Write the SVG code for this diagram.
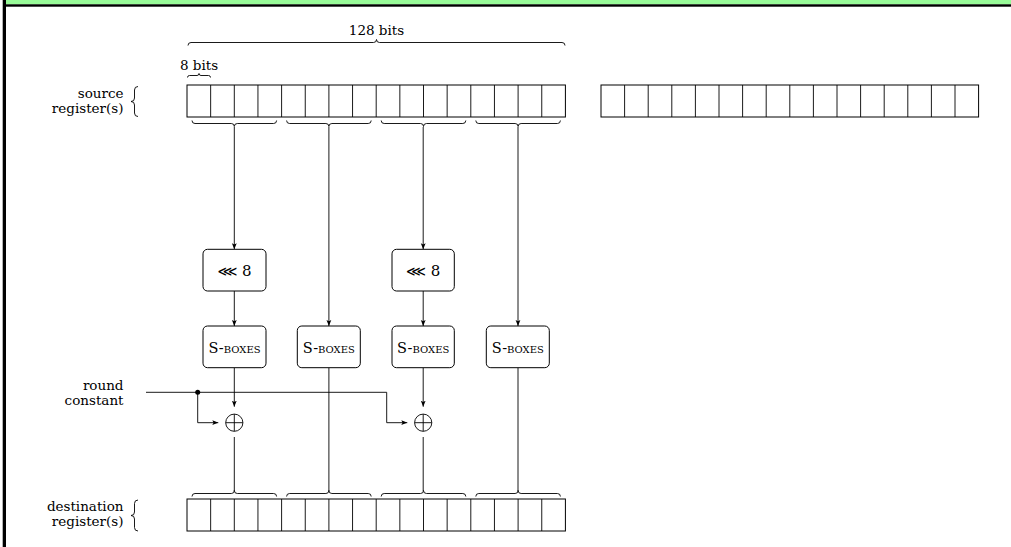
<svg xmlns="http://www.w3.org/2000/svg" width="1011" height="547" viewBox="0 0 1011 547">
<style>
  .t{font-family:"DejaVu Serif","Liberation Serif",serif;font-size:13.5px;fill:#000}
  .lbl{text-anchor:end}
  .mid{text-anchor:middle}
  .reg{fill:#fff;stroke:#000;stroke-width:1}
  .brace{fill:none;stroke:#000;stroke-width:0.9}
  .box{fill:#fff;stroke:#000;stroke-width:1}
  .ln{fill:none;stroke:#000;stroke-width:0.9}
  .sb{font-size:14.5px}
  .sc{font-variant:small-caps}
  .rot{font-size:15px}
</style>
<defs>
  <marker id="ah" markerUnits="userSpaceOnUse" markerWidth="6" markerHeight="6" viewBox="0 0 6 6" refX="6" refY="3" orient="auto">
    <path d="M0,0.6 L6,3 L0,5.4 L1.3,3 z" fill="#000"/>
  </marker>
</defs>
<rect x="0" y="0" width="1011" height="547" fill="#fff"/>
<g id="frame">
  <rect x="3" y="0" width="1008" height="4.5" fill="#98fb98"/>
  <rect x="3" y="4.3" width="1008" height="2.4" fill="#000"/>
  <rect x="2.7" y="0" width="3.3" height="547" fill="#000"/>
</g>

<g id="width-labels">
  <text class="t mid" x="376.5" y="35" font-size="14">128 bits</text>
  <path class="brace" d="M188,45.5 Q188,42.5 191,42.5 L373.5,42.5 Q376.5,42.5 376.5,39.5 Q376.5,42.5 379.5,42.5 L562,42.5 Q565,42.5 565,45.5"/>
  <text class="t mid" x="199" y="69.5" font-size="14">8 bits</text>
  <path class="brace" d="M187.5,77.5 Q187.5,75.5 189.5,75.5 L197,75.5 Q199,75.5 199,73.5 Q199,75.5 201,75.5 L208.5,75.5 Q210.5,75.5 210.5,77.5"/>
</g>

<g id="source-label">
  <text class="t lbl" x="123.5" y="98">source</text>
  <text class="t lbl" x="123.5" y="113">register(s)</text>
  <path class="brace" d="M138,86.5 Q134.5,86.5 134.5,90 L134.5,98 Q134.5,101.5 131,101.5 Q134.5,101.5 134.5,105 L134.5,113 Q134.5,116.5 138,116.5"/>
</g>

<g id="source-register">
  <rect class="reg" x="187" y="85" width="378.4" height="32"/>
  <path class="ln" d="M210.65,85V117M234.3,85V117M257.95,85V117M281.6,85V117M305.25,85V117M328.9,85V117M352.55,85V117M376.2,85V117M399.85,85V117M423.5,85V117M447.15,85V117M470.8,85V117M494.45,85V117M518.1,85V117M541.75,85V117"/>
  <path class="brace" d="M192,120.5 Q192,123.5 195,123.5 L231.3,123.5 Q234.3,123.5 234.3,126.5 Q234.3,123.5 237.3,123.5 L273.6,123.5 Q276.6,123.5 276.6,120.5"/>
  <path class="brace" d="M286.6,120.5 Q286.6,123.5 289.6,123.5 L325.9,123.5 Q328.9,123.5 328.9,126.5 Q328.9,123.5 331.9,123.5 L368.2,123.5 Q371.2,123.5 371.2,120.5"/>
  <path class="brace" d="M381.2,120.5 Q381.2,123.5 384.2,123.5 L420.5,123.5 Q423.5,123.5 423.5,126.5 Q423.5,123.5 426.5,123.5 L462.8,123.5 Q465.8,123.5 465.8,120.5"/>
  <path class="brace" d="M475.8,120.5 Q475.8,123.5 478.8,123.5 L515.1,123.5 Q518.1,123.5 518.1,126.5 Q518.1,123.5 521.1,123.5 L557.4,123.5 Q560.4,123.5 560.4,120.5"/>
</g>

<g id="second-register">
  <rect class="reg" x="601" y="85" width="377.6" height="32"/>
  <path class="ln" d="M624.6,85V117M648.2,85V117M671.8,85V117M695.4,85V117M719,85V117M742.6,85V117M766.2,85V117M789.8,85V117M813.4,85V117M837,85V117M860.6,85V117M884.2,85V117M907.8,85V117M931.4,85V117M955,85V117"/>
</g>

<g id="connectors">
  <path class="ln" d="M234.3,127 V249.3" marker-end="url(#ah)"/>
  <path class="ln" d="M423.2,127 V249.3" marker-end="url(#ah)"/>
  <path class="ln" d="M328.9,127 V326" marker-end="url(#ah)"/>
  <path class="ln" d="M518,127 V326" marker-end="url(#ah)"/>
  <path class="ln" d="M234.3,291 V326" marker-end="url(#ah)"/>
  <path class="ln" d="M423.2,291 V326" marker-end="url(#ah)"/>
  <path class="ln" d="M234.3,367.7 V406.7" marker-end="url(#ah)"/>
  <path class="ln" d="M423.2,367.7 V406.7" marker-end="url(#ah)"/>
  <path class="ln" d="M146,392.3 H386.7 V422.7 H407.3" marker-end="url(#ah)"/>
  <path class="ln" d="M197.7,392.3 V422.7 H218.3" marker-end="url(#ah)"/>
  <circle cx="197.7" cy="392.3" r="2.5" fill="#000"/>
  <path class="ln" d="M234.3,437 V491"/>
  <path class="ln" d="M423.2,437 V491"/>
  <path class="ln" d="M328.9,367.7 V491"/>
  <path class="ln" d="M518,367.7 V491"/>
</g>

<g id="rot1">
  <rect class="box" x="203" y="249.3" width="63" height="41.7" rx="4.5"/>
  <text class="t mid rot" x="234.5" y="276"><tspan font-family="DejaVu Sans,sans-serif" font-size="14">⋘</tspan> 8</text>
</g>
<g id="rot2">
  <rect class="box" x="392" y="249.3" width="62.3" height="41.7" rx="4.5"/>
  <text class="t mid rot" x="423.2" y="276"><tspan font-family="DejaVu Sans,sans-serif" font-size="14">⋘</tspan> 8</text>
</g>
<g id="sbox1">
  <rect class="box" x="203" y="326" width="63" height="41.7" rx="4.5"/>
  <text class="t mid sb" x="234.5" y="352.5">S-<tspan class="sc">boxes</tspan></text>
</g>
<g id="sbox2">
  <rect class="box" x="297.3" y="326" width="63" height="41.7" rx="4.5"/>
  <text class="t mid sb" x="328.8" y="352.5">S-<tspan class="sc">boxes</tspan></text>
</g>
<g id="sbox3">
  <rect class="box" x="392" y="326" width="62.3" height="41.7" rx="4.5"/>
  <text class="t mid sb" x="423.2" y="352.5">S-<tspan class="sc">boxes</tspan></text>
</g>
<g id="sbox4">
  <rect class="box" x="486.3" y="326" width="63" height="41.7" rx="4.5"/>
  <text class="t mid sb" x="517.8" y="352.5">S-<tspan class="sc">boxes</tspan></text>
</g>
<g id="xor1">
  <circle cx="234.3" cy="422.7" r="8.6" fill="#fff" stroke="#000" stroke-width="0.9"/>
  <path class="ln" d="M225.7,422.7 H242.9 M234.3,414.1 V431.3"/>
</g>
<g id="xor2">
  <circle cx="423.2" cy="422.7" r="8.6" fill="#fff" stroke="#000" stroke-width="0.9"/>
  <path class="ln" d="M414.6,422.7 H431.8 M423.2,414.1 V431.3"/>
</g>

<g id="round-constant-label">
  <text class="t lbl" x="123.5" y="390">round</text>
  <text class="t lbl" x="123.5" y="404.5">constant</text>
</g>

<g id="destination-label">
  <text class="t lbl" x="123.5" y="511">destination</text>
  <text class="t lbl" x="123.5" y="526">register(s)</text>
  <path class="brace" d="M138,500 Q134.5,500 134.5,503.5 L134.5,512 Q134.5,515.5 131,515.5 Q134.5,515.5 134.5,519 L134.5,527.5 Q134.5,531 138,531"/>
</g>

<g id="destination-register">
  <path class="brace" d="M192,496.5 Q192,493.5 195,493.5 L231.3,493.5 Q234.3,493.5 234.3,490.5 Q234.3,493.5 237.3,493.5 L273.6,493.5 Q276.6,493.5 276.6,496.5"/>
  <path class="brace" d="M286.6,496.5 Q286.6,493.5 289.6,493.5 L325.9,493.5 Q328.9,493.5 328.9,490.5 Q328.9,493.5 331.9,493.5 L368.2,493.5 Q371.2,493.5 371.2,496.5"/>
  <path class="brace" d="M381.2,496.5 Q381.2,493.5 384.2,493.5 L420.5,493.5 Q423.5,493.5 423.5,490.5 Q423.5,493.5 426.5,493.5 L462.8,493.5 Q465.8,493.5 465.8,496.5"/>
  <path class="brace" d="M475.8,496.5 Q475.8,493.5 478.8,493.5 L515.1,493.5 Q518.1,493.5 518.1,490.5 Q518.1,493.5 521.1,493.5 L557.4,493.5 Q560.4,493.5 560.4,496.5"/>
  <rect class="reg" x="187" y="499" width="378.4" height="32"/>
  <path class="ln" d="M210.65,499V531M234.3,499V531M257.95,499V531M281.6,499V531M305.25,499V531M328.9,499V531M352.55,499V531M376.2,499V531M399.85,499V531M423.5,499V531M447.15,499V531M470.8,499V531M494.45,499V531M518.1,499V531M541.75,499V531"/>
</g>
</svg>
